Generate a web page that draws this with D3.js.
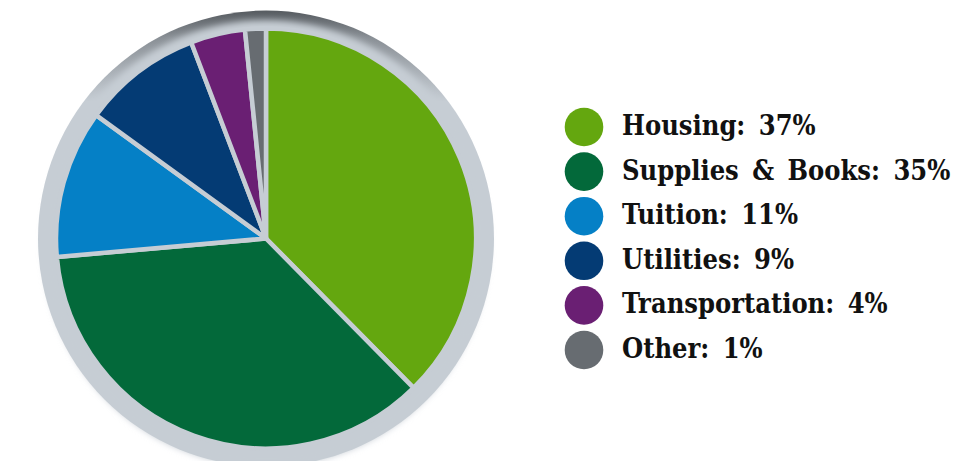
<!DOCTYPE html>
<html>
<head>
<meta charset="utf-8">
<script src="https://cdn.jsdelivr.net/npm/d3@7"></script>
<style>
  html, body { margin: 0; padding: 0; background: #fff; }
  svg { display: block; }
  .legend-label { font-family: "DejaVu Serif Condensed", "DejaVu Serif", serif; font-weight: bold; fill: #111; }
</style>
</head>
<body>
<div id="chart"></div>
<script>
// Spending breakdown
const categories = ["Housing", "Supplies & Books", "Tuition", "Utilities", "Transportation", "Other"];
const labelPercents = [37, 35, 11, 9, 4, 1];              // as printed in the legend
const sliceShares = [37.6, 36.0, 11.4, 9.2, 4.2, 1.6];    // slice sizes as drawn
const colors = ["#64a70f", "#03693a", "#0580c6", "#043b74", "#6a1f73", "#676c71"];

const width = 960, height = 461;
const cx = 266, cy = 238.5;
const pieRadius = 210, ringRadius = 228;
const sepColor = "#c6cdd4";

const data = categories.map((c, i) => ({category: c, share: sliceShares[i], label: labelPercents[i]}));

const svg = d3.select("#chart").append("svg")
    .attr("width", width)
    .attr("height", height);

const defs = svg.append("defs");

// darker bevel at the top of the ring
const grad = defs.append("linearGradient")
    .attr("id", "ring-grad")
    .attr("x1", 0).attr("y1", 0).attr("x2", 0).attr("y2", 1);
grad.append("stop").attr("offset", "0%").attr("stop-color", "#565b60");
grad.append("stop").attr("offset", "6%").attr("stop-color", "#8a9096");
grad.append("stop").attr("offset", "20%").attr("stop-color", "#c6cdd4");
grad.append("stop").attr("offset", "100%").attr("stop-color", "#c6cdd4");

defs.append("filter")
    .attr("id", "soft")
    .attr("x", "-10%").attr("y", "-10%").attr("width", "120%").attr("height", "120%")
    .append("feGaussianBlur")
    .attr("stdDeviation", 3);

const chart = svg.append("g")
    .attr("transform", `translate(${cx},${cy})`);

// outer ring
chart.append("circle")
    .attr("r", ringRadius)
    .attr("fill", "url(#ring-grad)");

chart.append("circle")
    .attr("cy", 5)
    .attr("r", ringRadius - 5)
    .attr("fill", sepColor)
    .attr("filter", "url(#soft)");

chart.append("circle")
    .attr("r", pieRadius + 2)
    .attr("fill", sepColor);

// slices
const pie = d3.pie()
    .sort(null)
    .value(d => d.share);

const arc = d3.arc()
    .innerRadius(0)
    .outerRadius(pieRadius);

const color = d3.scaleOrdinal()
    .domain(categories)
    .range(colors);

chart.selectAll(".slice")
    .data(pie(data))
    .join("path")
    .attr("class", "slice")
    .attr("d", arc)
    .attr("fill", d => color(d.data.category))
    .attr("stroke", sepColor)
    .attr("stroke-width", 4.5)
    .attr("stroke-linejoin", "round");

// legend
const legendY = d3.scalePoint()
    .domain(categories)
    .range([127, 350]);

const legend = svg.append("g")
    .attr("class", "legend")
    .selectAll("g")
    .data(data)
    .join("g")
    .attr("transform", d => `translate(584,${legendY(d.category)})`);

legend.append("circle")
    .attr("r", 19.3)
    .attr("fill", d => color(d.category));

legend.append("text")
    .attr("class", "legend-label")
    .attr("x", 38)
    .attr("y", 8)
    .attr("font-size", 27)
    .style("word-spacing", "5px")
    .text(d => `${d.category}: ${d.label}%`);
</script>
</body>
</html>
